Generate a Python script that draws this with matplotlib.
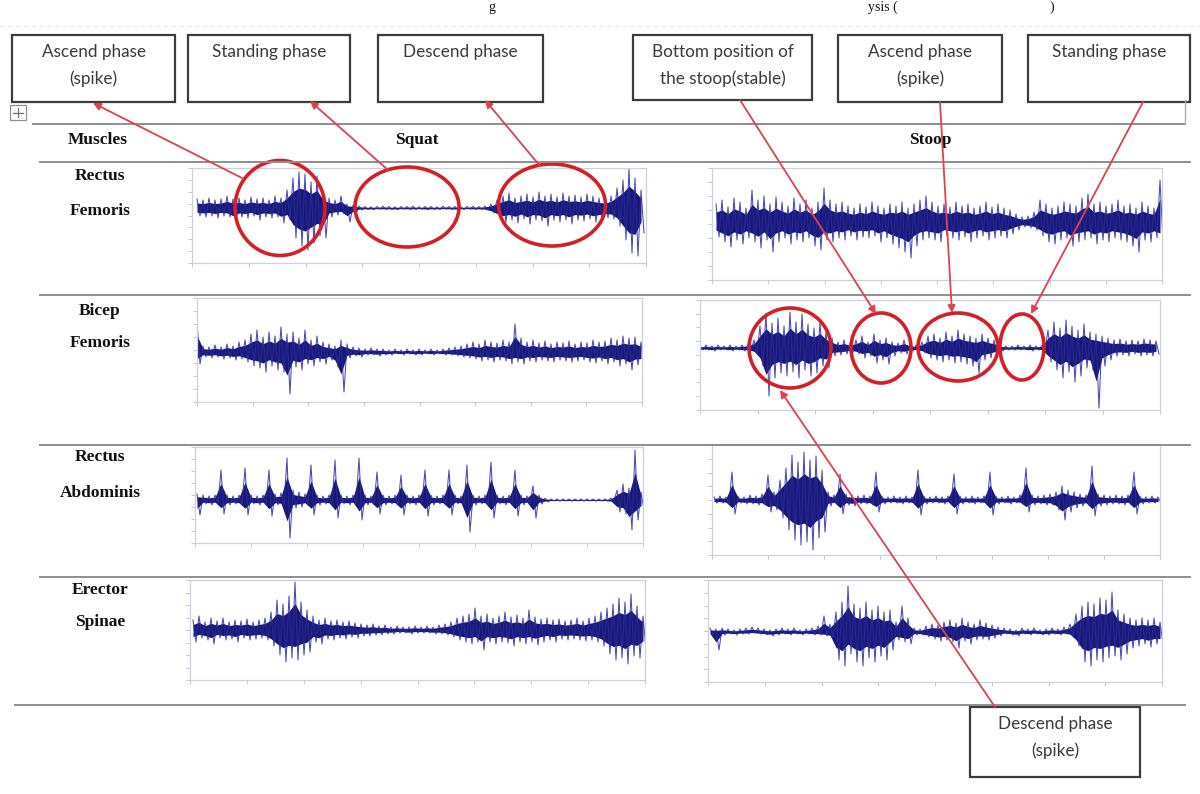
import numpy as np
import matplotlib
matplotlib.use("Agg")
import matplotlib.pyplot as plt
from matplotlib.patches import Ellipse, Rectangle

# ---------------- DATA (EMG envelope samples, arbitrary units) ----------------
muscles = ["Rectus\nFemoris", "Bicep\nFemoris", "Rectus\nAbdominis", "Erector\nSpinae"]
conditions = ["Squat", "Stoop"]

rf_squat_up = [9, 8, 10, 8, 9, 12, 9, 10, 8, 11,
               9, 10, 8, 12, 10, 18, 30, 36, 34, 26,
               32, 15, 10, 8, 12, 4, 3, 2, 1.5, 1.2,
               1.5, 1.8, 1.5, 1.2, 1.5, 1.5, 1.8, 1.2, 1.5, 1.5,
               1.2, 1.8, 1.5, 1.5, 1.2, 1.5, 1.8, 1.5, 2, 4,
               8, 12, 15, 10, 12, 14, 11, 16, 12, 14,
               11, 15, 12, 13, 11, 14, 12, 10, 9, 12,
               20, 28, 40, 30, 18]
rf_squat_lo = [-8, -9, -8, -10, -8, -9, -14, -9, -10, -8,
               -12, -9, -10, -9, -15, -12, -30, -38, -42, -35,
               -28, -30, -9, -7, -6, -14, -6, -2, -1.5, -1.8,
               -1.2, -1.5, -1.5, -1.8, -1.2, -1.5, -1.5, -1.2, -1.8, -1.5,
               -1.5, -1.2, -1.5, -1.8, -1.5, -1.2, -1.5, -1.5, -2, -5,
               -10, -14, -12, -15, -11, -16, -12, -13, -18, -12,
               -14, -12, -16, -12, -13, -11, -14, -12, -10, -11,
               -18, -32, -45, -48, -25]

rf_stoop_up = [18, 22, 15, 24, 20, 14, 32, 22, 26, 18,
               25, 20, 16, 24, 18, 22, 14, 20, 34, 22,
               18, 20, 16, 14, 18, 15, 20, 16, 14, 18,
               16, 20, 14, 18, 22, 26, 20, 16, 18, 15,
               20, 16, 18, 14, 16, 20, 15, 18, 14, 12,
               8, 5, 6, 10, 22, 18, 14, 16, 20, 18,
               16, 24, 28, 18, 20, 16, 18, 22, 16, 18,
               14, 20, 16, 14, 42]
rf_stoop_lo = [-15, -20, -25, -18, -22, -16, -20, -26, -18, -30,
               -20, -16, -22, -18, -20, -16, -24, -28, -18, -20,
               -16, -18, -14, -18, -15, -16, -14, -20, -16, -22,
               -26, -30, -36, -24, -18, -16, -18, -20, -14, -16,
               -18, -15, -20, -16, -14, -18, -16, -14, -16, -12,
               -8, -5, -6, -8, -14, -20, -22, -18, -16, -24,
               -20, -18, -16, -22, -18, -20, -16, -18, -20, -24,
               -30, -18, -20, -16, -20]

bf_squat_up = [30, 6, 5, 7, 5, 8, 6, 10, 12, 18,
               22, 15, 20, 16, 25, 18, 20, 14, 22, 12,
               16, 10, 8, 6, 12, 8, 5, 4, 3, 4,
               3, 3, 2, 3, 2, 3, 2, 3, 2, 3,
               2, 3, 4, 5, 6, 8, 10, 8, 12, 10,
               9, 12, 10, 28, 14, 10, 12, 9, 11, 8,
               10, 9, 11, 8, 10, 9, 12, 10, 11, 14,
               12, 16, 14, 15, 10]
bf_squat_lo = [-12, -5, -6, -5, -7, -6, -8, -7, -10, -14,
               -16, -20, -14, -18, -20, -42, -15, -18, -12, -14,
               -10, -12, -8, -15, -40, -6, -4, -5, -3, -3,
               -4, -3, -3, -2, -3, -2, -3, -3, -2, -3,
               -2, -3, -3, -4, -5, -6, -7, -9, -8, -10,
               -8, -9, -12, -10, -12, -9, -10, -8, -9, -10,
               -8, -9, -10, -9, -8, -10, -11, -9, -12, -10,
               -14, -12, -18, -13, -12]

bf_stoop_up = [2, 3, 2, 3, 2, 3, 2, 3, 4, 8,
               22, 35, 25, 30, 22, 36, 26, 34, 24, 20,
               26, 16, 10, 6, 8, 5, 8, 12, 6, 14,
               8, 10, 6, 5, 8, 4, 3, 6, 12, 14,
               10, 16, 12, 18, 14, 12, 10, 14, 10, 8,
               3, 2, 2, 3, 2, 3, 2, 3, 18, 26,
               20, 28, 22, 18, 24, 16, 14, 12, 10, 8,
               9, 7, 8, 7, 9, 8, 7]
bf_stoop_lo = [-2, -2, -3, -2, -2, -3, -2, -3, -3, -6,
               -18, -48, -30, -25, -28, -24, -30, -22, -28, -25,
               -18, -20, -8, -7, -6, -4, -6, -10, -8, -15,
               -12, -16, -8, -5, -6, -3, -3, -5, -10, -12,
               -14, -12, -15, -14, -16, -18, -25, -12, -10, -7,
               -3, -2, -2, -2, -2, -3, -2, -3, -14, -22,
               -30, -24, -34, -28, -20, -22, -60, -18, -12, -8,
               -7, -8, -6, -8, -7, -8, -6]

ra_squat_up = [6, 5, 4, 5, 30, 5, 4, 5, 32, 5,
               4, 5, 30, 6, 7, 42, 10, 8, 6, 35,
               5, 4, 5, 40, 5, 4, 5, 42, 5, 4,
               28, 5, 4, 5, 25, 5, 4, 5, 30, 5,
               4, 5, 30, 5, 4, 35, 5, 4, 5, 38,
               5, 4, 5, 30, 5, 4, 14, 5, 2, 1,
               1, 1, 1, 1, 1, 1, 1, 1, 1, 2,
               10, 16, 12, 50, 8]
ra_squat_lo = [-15, -4, -5, -4, -14, -5, -4, -5, -15, -4,
               -5, -4, -16, -5, -6, -38, -8, -7, -5, -15,
               -5, -4, -5, -18, -4, -5, -4, -20, -5, -4,
               -14, -5, -4, -5, -15, -4, -5, -4, -16, -5,
               -4, -5, -15, -4, -5, -32, -5, -4, -5, -18,
               -4, -5, -4, -16, -5, -4, -18, -4, -2, -1,
               -1, -1, -1, -1, -1, -1, -1, -1, -1, -2,
               -12, -14, -30, -20, -10]

ra_stoop_up = [3, 4, 3, 28, 4, 3, 5, 4, 6, 25,
               8, 20, 32, 45, 38, 48, 40, 44, 30, 8,
               5, 26, 6, 5, 4, 5, 4, 28, 4, 3,
               4, 3, 4, 3, 30, 4, 3, 4, 3, 4,
               26, 4, 3, 4, 3, 4, 28, 4, 3, 4,
               3, 5, 32, 5, 4, 5, 6, 8, 14, 10,
               8, 6, 5, 34, 6, 5, 4, 5, 4, 5,
               28, 4, 3, 4, 3]
ra_stoop_lo = [-3, -3, -4, -14, -3, -4, -4, -5, -5, -12,
               -10, -18, -30, -40, -45, -42, -50, -38, -32, -6,
               -4, -14, -5, -6, -4, -4, -5, -12, -4, -3,
               -3, -4, -3, -4, -15, -4, -3, -3, -4, -3,
               -14, -4, -3, -4, -3, -4, -15, -4, -3, -4,
               -3, -4, -12, -5, -4, -5, -5, -10, -20, -12,
               -8, -6, -5, -16, -6, -5, -4, -4, -5, -4,
               -14, -4, -3, -3, -3]

es_squat_up = [10, 14, 8, 12, 9, 12, 8, 10, 9, 11,
               8, 10, 12, 18, 30, 26, 34, 48, 28, 20,
               14, 10, 12, 9, 10, 8, 9, 7, 6, 5,
               6, 4, 5, 3, 4, 3, 3, 4, 3, 4,
               3, 5, 6, 8, 12, 14, 16, 22, 14, 16,
               12, 14, 18, 13, 15, 12, 20, 13, 11, 12,
               10, 11, 9, 10, 12, 9, 12, 14, 18, 22,
               26, 32, 28, 36, 24, 14]
es_squat_lo = [-12, -8, -10, -14, -8, -10, -9, -12, -8, -10,
               -9, -8, -10, -16, -25, -32, -28, -30, -25, -22,
               -12, -14, -9, -10, -8, -9, -7, -8, -6, -6,
               -5, -5, -4, -4, -3, -3, -4, -3, -3, -3,
               -4, -4, -5, -7, -10, -12, -14, -12, -20, -12,
               -14, -12, -13, -16, -12, -14, -12, -15, -12, -10,
               -12, -9, -10, -9, -10, -11, -10, -12, -16, -24,
               -30, -28, -34, -26, -28, -20]

es_stoop_up = [4, 3, 4, 3, 2, 3, 4, 5, 4, 3,
               2, 3, 4, 3, 4, 2, 3, 4, 6, 16,
               8, 20, 30, 46, 28, 24, 30, 22, 26, 20,
               22, 10, 26, 14, 4, 3, 6, 8, 7, 10,
               12, 9, 14, 10, 8, 12, 9, 7, 5, 4,
               3, 2, 4, 3, 4, 2, 3, 4, 3, 5,
               8, 18, 26, 30, 28, 34, 32, 40, 22, 18,
               14, 12, 14, 12, 14, 10]
es_stoop_lo = [-3, -18, -3, -2, -3, -2, -2, -1, -2, -3,
               -4, -3, -2, -3, -2, -3, -2, -3, -3, -4,
               -6, -28, -34, -22, -30, -34, -26, -30, -24, -28,
               -18, -8, -10, -12, -3, -3, -5, -7, -9, -8,
               -10, -16, -9, -12, -8, -7, -8, -6, -4, -2,
               -3, -4, -2, -3, -2, -3, -3, -2, -3, -2,
               -4, -14, -30, -34, -28, -30, -26, -24, -28, -22,
               -16, -14, -12, -15, -12, -12]

box_texts = ["Ascend phase\n(spike)", "Standing phase", "Descend phase",
             "Bottom position of\nthe stoop(stable)", "Ascend phase\n(spike)",
             "Standing phase", "Descend phase\n(spike)"]
caption_bits = ["g", "ysis (", ")"]

# ---------------- LAYOUT (pixels) ----------------
W, H = 1200, 794
fig = plt.figure(figsize=(W / 100, H / 100), dpi=100)
fig.patch.set_facecolor("white")

PX_PER_SAMPLE = 6
# (left, top, right, bottom, signal start x, signal centre y)
panels = [
    (rf_squat_up, rf_squat_lo, (192, 168, 646, 263, 197, 208)),
    (rf_stoop_up, rf_stoop_lo, (712, 168, 1162, 280, 716, 222)),
    (bf_squat_up, bf_squat_lo, (197, 298, 642, 402, 197, 352)),
    (bf_stoop_up, bf_stoop_lo, (700, 300, 1160, 410, 700, 348)),
    (ra_squat_up, ra_squat_lo, (195, 447, 643, 543, 197, 500)),
    (ra_stoop_up, ra_stoop_lo, (712, 445, 1160, 555, 714, 500)),
    (es_squat_up, es_squat_lo, (190, 580, 645, 680, 193, 630)),
    (es_stoop_up, es_stoop_lo, (708, 580, 1162, 682, 710, 632)),
]

for up, lo, (l, t, r, b, sx, cy) in panels:
    ax = fig.add_axes([l / W, 1 - b / H, (r - l) / W, (b - t) / H])
    up = np.asarray(up, float)
    lo = np.asarray(lo, float)
    x = np.arange(len(up))
    ax.fill_between(x, lo * 0.55, up * 0.55, color="#0c0c6e", lw=0, alpha=0.95)
    xz = np.empty(2 * len(x)); xz[0::2] = x; xz[1::2] = x + 0.5
    yz = np.empty(2 * len(x)); yz[0::2] = up; yz[1::2] = lo
    ax.plot(xz, yz, color="#2a2aa6", lw=0.75, alpha=0.85)
    ax.set_xlim((l - sx) / PX_PER_SAMPLE, (r - sx) / PX_PER_SAMPLE)
    ax.set_ylim(-(b - cy), cy - t)
    ax.set_facecolor("none")
    for s in ax.spines.values():
        s.set_color("#cdd0e2")
        s.set_linewidth(0.9)
    ax.tick_params(length=3, width=0.6, color="#b8bcd4", labelbottom=False, labelleft=False)
    ax.set_xticks(np.linspace(ax.get_xlim()[0], ax.get_xlim()[1], 9))
    ax.set_yticks(np.linspace(ax.get_ylim()[0], ax.get_ylim()[1], 9))

# ---------------- OVERLAY ----------------
ov = fig.add_axes([0, 0, 1, 1])
ov.set_xlim(0, W)
ov.set_ylim(H, 0)
ov.axis("off")
ov.set_facecolor("none")

# caption fragment at very top
serif = "Liberation Serif"
for xx, bit in zip([488, 868, 1050], caption_bits):
    ov.text(xx, 1, bit, family=serif, fontsize=10, va="top", ha="left", color="#111")

# faint dotted guide line near top
ov.plot([0, 1200], [26, 26], color="#e6e6e6", lw=0.8, ls=(0, (4, 3)))

# table rules
gray = "#8e8e8e"
ov.plot([33, 1185], [124, 124], color=gray, lw=1.4)
ov.plot([1185, 1185], [100, 124], color="#b0b0b0", lw=1.0)
for y in [162, 295, 445, 577]:
    ov.plot([40, 1190], [y, y], color=gray, lw=1.4)
ov.plot([15, 1185], [705, 705], color=gray, lw=1.4)

# little "+" table handle
ov.add_patch(Rectangle((10, 105), 16, 15, fill=False, ec="#909090", lw=0.9))
ov.plot([18, 18], [108, 117], color="#707070", lw=0.9)
ov.plot([13, 23], [112.5, 112.5], color="#707070", lw=0.9)

# headers and row labels
hb = dict(family=serif, fontweight="bold", fontsize=12.5, ha="center", va="center", color="#111")
ov.text(98, 140, "Muscles", **hb)
ov.text(417, 140, conditions[0], **hb)
ov.text(930, 140, conditions[1], **hb)
row_y = [(176, 211), (311, 343), (457, 493), (590, 622)]
for name, (y1, y2) in zip(muscles, row_y):
    a, bname = name.split("\n")
    ov.text(100, y1, a, **hb)
    ov.text(100, y2, bname, **hb)

# annotation boxes
boxes = [(12, 35, 175, 102), (188, 35, 350, 102), (378, 35, 543, 102),
         (633, 35, 812, 100), (838, 35, 1002, 102), (1028, 35, 1190, 102),
         (970, 707, 1140, 777)]
for (x0, y0, x1, y1), txt in zip(boxes, box_texts):
    ov.add_patch(Rectangle((x0, y0), x1 - x0, y1 - y0, fill=False, ec="#3c3c3c", lw=1.6))
    ov.text((x0 + x1) / 2, y0 + 9, txt, family="Lato", fontsize=12.3, ha="center", va="top",
            color="#3a3a3a", linespacing=1.75)

# red ellipses
red = "#d51f26"
ellipses = [(280, 208, 90, 95), (407, 207, 104, 80), (552, 205, 107, 82),
            (790, 348, 82, 80), (881, 348, 60, 70), (958, 347, 80, 68), (1022, 347, 44, 66)]
for cx, cy, w, h in ellipses:
    ov.add_patch(Ellipse((cx, cy), w, h, fill=False, ec=red, lw=2.6))

# arrows (tail -> head)
arrows = [((242, 178), (93, 103)), ((388, 170), (310, 101)), ((540, 166), (485, 100)),
          ((740, 100), (876, 314)), ((940, 102), (952, 313)), ((1143, 102), (1031, 314)),
          ((995, 707), (780, 390))]
for tail, head in arrows:
    ov.annotate("", xy=head, xytext=tail,
                arrowprops=dict(arrowstyle="-|>", color="#e0404f", lw=1.3,
                                mutation_scale=11, shrinkA=0, shrinkB=0))

fig.savefig("out.png", dpi=100, facecolor="white")
